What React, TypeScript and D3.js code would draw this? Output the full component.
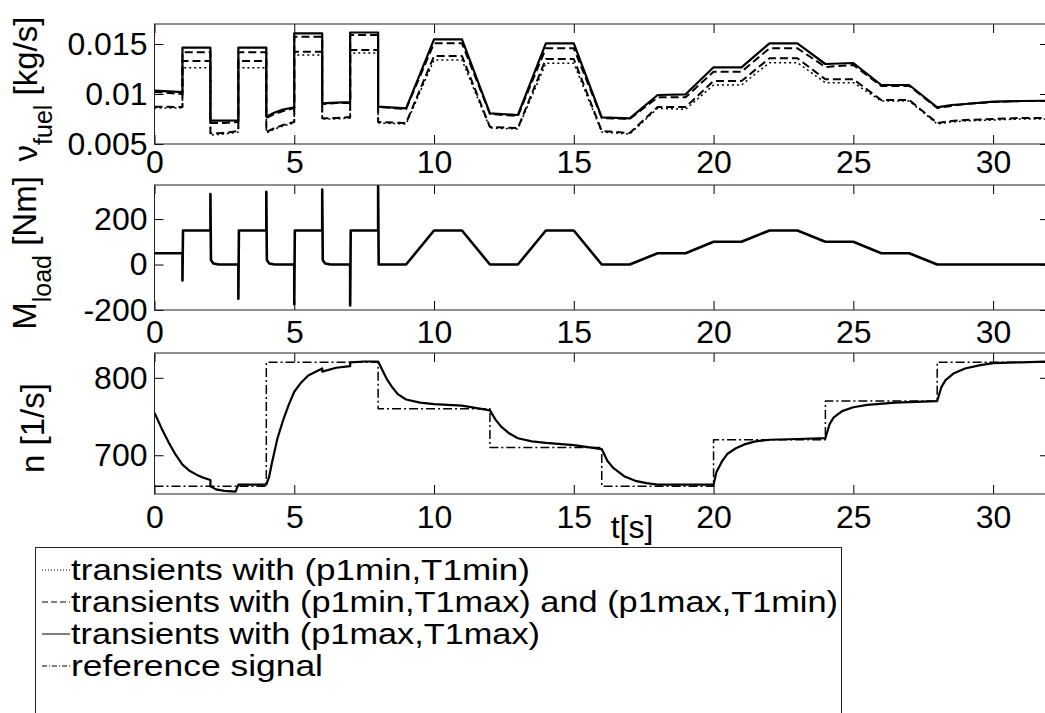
import React, { useEffect, useRef } from 'react'
import * as d3 from 'd3'

// time axis
const xTicks = [0, 5, 10, 15, 20, 25, 30]

// panel 1: fuel flow [kg/s]
const fuelTicks = [0.005, 0.01, 0.015]
const fuelTickLabels = ['0.005', '0.01', '0.015']
const fuelTime = [0, 1, 1, 2, 2, 2.5, 3, 3, 4, 4, 4.3, 4.6, 5, 5, 6, 6, 6.5, 7, 7, 8, 8, 9, 10, 11, 12, 13, 14, 15, 16, 17, 18, 19, 20, 21, 22, 23, 24, 25, 26, 27, 28, 28.5, 29, 30, 31, 32]
const fuelP1maxT1max = [
  0.01034, 0.01018, 0.01463, 0.01463, 0.00733, 0.00733, 0.00736, 0.01463, 0.01463, 0.00773,
  0.00815, 0.00845, 0.00867, 0.01607, 0.01607, 0.00907, 0.00913, 0.00918, 0.01615, 0.01615,
  0.00873, 0.00857, 0.01547, 0.01547, 0.00807, 0.0079, 0.01507, 0.01507, 0.00767, 0.00757,
  0.0099, 0.00997, 0.01267, 0.01267, 0.01507, 0.01507, 0.013, 0.0131, 0.0109, 0.0109,
  0.00867, 0.0089, 0.009, 0.00923, 0.0093, 0.00933
]
const fuelP1minT1max = [
  0.0102, 0.01, 0.01417, 0.01417, 0.0071, 0.0071, 0.0072, 0.01417, 0.01417, 0.0076,
  0.008, 0.0083, 0.0086, 0.01573, 0.01573, 0.009, 0.0091, 0.0091, 0.0159, 0.0159,
  0.0087, 0.0085, 0.01507, 0.01507, 0.008, 0.0078, 0.01457, 0.01457, 0.0076, 0.0075,
  0.00967, 0.00967, 0.01223, 0.01223, 0.01457, 0.01457, 0.0127, 0.0129, 0.0108, 0.0108,
  0.0086, 0.0088, 0.009, 0.0092, 0.0093, 0.0093
]
const fuelP1maxT1min = [
  0.00873, 0.0087, 0.0133, 0.0133, 0.00607, 0.0061, 0.0063, 0.0133, 0.0133, 0.0062,
  0.0066, 0.0069, 0.0072, 0.01423, 0.01423, 0.00757, 0.0076, 0.0077, 0.0144, 0.0144,
  0.0072, 0.0071, 0.0138, 0.0138, 0.0067, 0.0066, 0.0135, 0.0135, 0.0063, 0.0061,
  0.0087, 0.0087, 0.0113, 0.0113, 0.01357, 0.01357, 0.01147, 0.01147, 0.0094, 0.0094,
  0.0071, 0.0073, 0.0074, 0.0075, 0.0076, 0.0076
]
const fuelP1minT1min = [
  0.0086, 0.0086, 0.01263, 0.01263, 0.0059, 0.006, 0.0062, 0.01263, 0.01263, 0.0061,
  0.0065, 0.0068, 0.0071, 0.0139, 0.0139, 0.0075, 0.0075, 0.0076, 0.0141, 0.0141,
  0.0071, 0.007, 0.0134, 0.0134, 0.0066, 0.0065, 0.01307, 0.01307, 0.0062, 0.006,
  0.00857, 0.00847, 0.0109, 0.0109, 0.01313, 0.01313, 0.01113, 0.01113, 0.0093, 0.0093,
  0.007, 0.0072, 0.0073, 0.0074, 0.0075, 0.0075
]

// panel 2: load torque [Nm]
const loadTicks = [-200, 0, 200]
const loadTime = [0, 1, 1, 1.02, 2, 2, 2.02, 2.1, 2.3, 3, 3, 3.02, 4, 4, 4.02, 4.1, 4.3, 5, 5, 5.02, 6, 6, 6.02, 6.1, 6.3, 7, 7, 7.02, 8, 8, 8.02, 9, 10, 11, 12, 13, 14, 15, 16, 17, 18, 19, 20, 21, 22, 23, 24, 25, 26, 27, 28, 32]
const loadTorque = [50, 50, -70, 150, 150, 310, 20, 5, 0, 0, -150, 150, 150, 320, 20, 5, 0, 0, -175, 150, 150, 330, 20, 5, 0, 0, -180, 150, 150, 345, 0, 0, 150, 150, 0, 0, 150, 150, 0, 0, 50, 50, 100, 100, 150, 150, 100, 100, 50, 50, 0, 0]

// panel 3: engine speed [1/s]
const speedTicks = [700, 800]
const speedTime = [0, 0.25, 0.5, 0.75, 1, 1.25, 1.5, 1.75, 2, 2, 2.2, 2.5, 2.9, 3, 3.5, 4, 4.1, 4.2, 4.4, 4.6, 4.8, 5, 5.25, 5.5, 6, 6, 6.5, 7, 7, 7.5, 8, 8.15, 8.3, 8.5, 8.7, 9, 9.5, 10, 11, 12, 12.2, 12.4, 12.7, 13, 13.5, 14, 15, 16, 16.2, 16.4, 16.8, 17.2, 17.6, 18, 19, 20, 20.1, 20.3, 20.5, 20.8, 21.1, 21.5, 22, 23, 24, 24.15, 24.3, 24.6, 25, 25.5, 26.5, 28, 28.15, 28.3, 28.6, 29, 29.5, 30, 31, 32]
const speedActual = [
  755, 735, 717, 701, 688, 680, 675, 671, 668, 660,
  656, 654, 653, 662, 662, 662, 672, 690, 722, 745,
  765, 782, 794, 803, 812, 808, 813, 815, 820, 821,
  821, 810, 799, 788, 779, 772, 768, 766, 764, 758,
  746, 737, 728, 722, 718, 716, 713, 708, 693, 684,
  673, 667, 664, 662, 662, 662, 678, 692, 702, 709,
  714, 718, 720, 721, 722, 740, 749, 757, 762, 765,
  768, 770, 788, 797, 806, 812, 816, 819, 820, 821
]
const refTime = [0, 4, 4, 8, 8, 12, 12, 16, 16, 20, 20, 24, 24, 28, 28, 32]
const refSpeed = [660, 660, 820, 820, 760, 760, 710, 710, 660, 660, 720, 720, 770, 770, 820, 820]

const legendLabels = [
  'transients with (p1min,T1min)',
  'transients with (p1min,T1max) and (p1max,T1min)',
  'transients with (p1max,T1max)',
  'reference signal'
]

const FONT = '"Liberation Sans", Arial, Helvetica, sans-serif'

const STYLES = {
  dotted: { width: 1.5, dash: '2,3' },
  dashed: { width: 2, dash: '8,4' },
  solid: { width: 2.2, dash: null as string | null },
  dashdot: { width: 1.5, dash: '9,3,2,3' }
}

const App: React.FC = () => {
  const svgRef = useRef<SVGSVGElement>(null)

  useEffect(() => {
    if (!svgRef.current) return
    const svg = d3.select(svgRef.current)
    svg.selectAll('*').remove()

    const x = d3.scaleLinear().domain([0, 32]).range([154.5, 1049])
    const [x0, x1] = x.range()

    const panels = [
      {
        top: 24, bottom: 144, domain: [0.005, 0.017], ticks: fuelTicks,
        tickFormat: (_d: number, i: number) => fuelTickLabels[i], xPad: 6,
        series: [
          { t: fuelTime, v: fuelP1minT1min, style: STYLES.dotted },
          { t: fuelTime, v: fuelP1maxT1min, style: STYLES.dashed },
          { t: fuelTime, v: fuelP1minT1max, style: STYLES.dashed },
          { t: fuelTime, v: fuelP1maxT1max, style: STYLES.solid }
        ]
      },
      {
        top: 185, bottom: 310, domain: [-200, 350], ticks: loadTicks,
        tickFormat: (d: number) => String(d), xPad: 10,
        series: [{ t: loadTime, v: loadTorque, style: { width: 2.6, dash: null } }]
      },
      {
        top: 353, bottom: 494, domain: [650, 832], ticks: speedTicks,
        tickFormat: (d: number) => String(d), xPad: 11,
        series: [
          { t: refTime, v: refSpeed, style: STYLES.dashdot },
          { t: speedTime, v: speedActual, style: STYLES.solid }
        ]
      }
    ]

    panels.forEach((p, i) => {
      const y = d3.scaleLinear().domain(p.domain).range([p.bottom, p.top])
      const g = svg.append('g')

      const clipId = `clip-panel-${i}`
      svg.append('clipPath').attr('id', clipId)
        .append('rect')
        .attr('x', x0).attr('y', p.top)
        .attr('width', x1 - x0).attr('height', p.bottom - p.top)

      const line = d3.line<[number, number]>()
        .x(d => x(d[0]))
        .y(d => y(d[1]))

      const lines = g.append('g').attr('clip-path', `url(#${clipId})`)
      p.series.forEach(s => {
        lines.append('path')
          .attr('d', line(d3.zip(s.t, s.v) as [number, number][]))
          .attr('fill', 'none')
          .attr('stroke', '#000')
          .attr('stroke-width', s.style.width)
          .attr('stroke-dasharray', s.style.dash)
          .attr('stroke-linejoin', 'round')
      })

      // axes (ticks point inward like MATLAB)
      const styleAxis = (sel: d3.Selection<SVGGElement, unknown, null, undefined>) => {
        sel.select('.domain').remove()
        sel.attr('font-family', FONT).attr('font-size', 32)
        sel.selectAll('line').attr('stroke', '#000')
        sel.selectAll('text').attr('fill', '#000')
      }

      g.append('g')
        .attr('transform', `translate(0,${p.bottom})`)
        .call(d3.axisBottom(x).tickValues(xTicks).tickSizeInner(-9).tickSizeOuter(0).tickPadding(p.xPad).tickFormat(d3.format('d')))
        .call(styleAxis)

      g.append('g')
        .attr('transform', `translate(0,${p.top})`)
        .call(d3.axisTop(x).tickValues(xTicks).tickSizeInner(-9).tickSizeOuter(0).tickFormat(() => ''))
        .call(styleAxis)

      g.append('g')
        .attr('transform', `translate(${x0},0)`)
        .call(d3.axisLeft(y).tickValues(p.ticks).tickSizeInner(-9).tickSizeOuter(0).tickPadding(7).tickFormat(p.tickFormat as any))
        .call(styleAxis)

      g.append('g')
        .attr('transform', `translate(${x1},0)`)
        .call(d3.axisRight(y).tickValues(p.ticks).tickSizeInner(-9).tickSizeOuter(0).tickFormat(() => ''))
        .call(styleAxis)

      g.append('rect')
        .attr('x', x0).attr('y', p.top)
        .attr('width', x1 - x0).attr('height', p.bottom - p.top)
        .attr('fill', 'none')
        .attr('stroke', '#222')
        .attr('stroke-width', 1)
    })

    // y-axis labels
    const yLabel = (tx: number, ty: number, main: string, sub: string | null, unit: string) => {
      const t = svg.append('text')
        .attr('transform', `translate(${tx},${ty}) rotate(-90)`)
        .attr('text-anchor', 'middle')
        .attr('font-family', FONT)
        .attr('font-size', 33)
        .style('white-space', 'pre')
      t.append('tspan').text(main)
      if (sub) {
        t.append('tspan').attr('dy', 15).attr('font-size', 25).text(sub)
        t.append('tspan').attr('dy', -15).text(' ' + unit)
      } else {
        t.append('tspan').text(' ' + unit)
      }
    }
    yLabel(37, 89, 'ν', 'fuel', '[kg/s]')
    yLabel(36, 253, 'M', 'load', '[Nm]')
    yLabel(44, 428, 'n', null, '[1/s]')

    svg.append('text')
      .attr('x', 632).attr('y', 538)
      .attr('text-anchor', 'middle')
      .attr('font-family', FONT)
      .attr('font-size', 32)
      .text('t[s]')

    // legend
    const legend = svg.append('g')
    legend.append('rect')
      .attr('x', 35.5).attr('y', 547.5)
      .attr('width', 806).attr('height', 200)
      .attr('fill', '#fff')
      .attr('stroke', '#222')

    const legendDash = ['1,2', '6,3', null, '5,2,1,2']
    const legendWidths = [459, 767, 469, 252]
    legendLabels.forEach((label, i) => {
      const base = 580 + i * 32
      legend.append('line')
        .attr('x1', 42).attr('x2', 70)
        .attr('y1', base - 10).attr('y2', base - 10)
        .attr('stroke', '#000')
        .attr('stroke-width', 1)
        .attr('stroke-dasharray', legendDash[i])
      legend.append('text')
        .attr('x', 71).attr('y', base)
        .attr('font-family', FONT)
        .attr('font-size', 30)
        .attr('textLength', legendWidths[i])
        .attr('lengthAdjust', 'spacingAndGlyphs')
        .text(label)
    })
  }, [])

  return (
    <div style={{ position: 'absolute', left: 0, top: 0, width: 1045, height: 713, overflow: 'hidden', background: '#fff' }}>
      <svg ref={svgRef} width={1045} height={713} style={{ display: 'block' }} />
    </div>
  )
}

export default App
